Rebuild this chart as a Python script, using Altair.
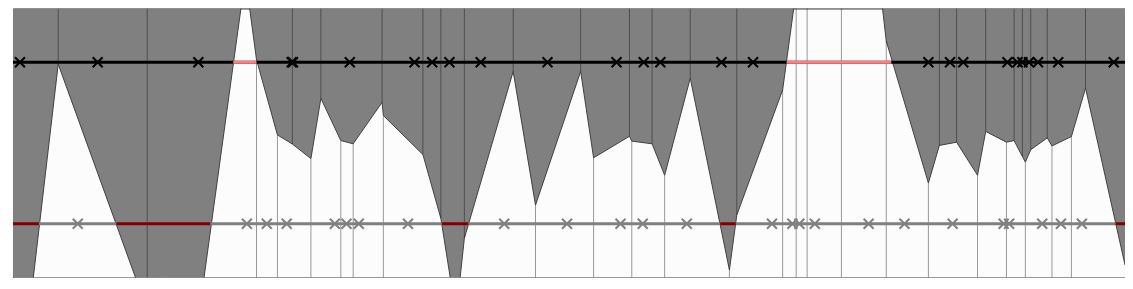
import altair as alt
import pandas as pd

# Boundary between the grey (upper) and white (lower) regions
bound_x = [0, 45.4, 134.7, 149.7, 233.2, 244.4, 265.4, 280.4, 299, 309, 329, 341.4,
           370.4, 371.7, 411.4, 429.4, 444.7, 453, 502, 524.4, 569.7, 582.7, 618.7,
           621, 641.4, 654, 679.7, 719, 726.4, 772.4, 786, 797, 831.4, 876.4, 918.7,
           929.7, 947, 968, 976.2, 997, 1004.7, 1013, 1016, 1021.4, 1038, 1042.7,
           1062.2, 1076.4, 1116]
bound_y = [-0.647, 0.793, -0.12, -1.136, 1.12, 0.81, 0.530, 0.496, 0.442, 0.666, 0.509,
           0.497, 0.651, 0.602, 0.457, 0.220, -0.138, 0.146, 0.766, 0.269, 0.766, 0.445,
           0.525, 0.507, 0.497, 0.380, 0.741, 0.028, 0.232, 0.697, 1.068, 1.40, 2.34,
           0.879, 0.351, 0.491, 0.503, 0.380, 0.543, 0.503, 0.509, 0.45, 0.429, 0.475,
           0.519, 0.489, 0.524, 0.704, 0.047]
bound_side = ["", "top", "top", "bottom", "top", "bottom", "bottom", "top", "bottom", "top",
              "bottom", "bottom", "top", "bottom", "top", "top", "bottom", "top", "top",
              "bottom", "top", "bottom", "top", "bottom", "top", "bottom", "top", "bottom",
              "top", "bottom", "bottom", "bottom", "bottom", "bottom", "bottom", "top", "top",
              "bottom", "top", "bottom", "top", "top", "bottom", "top", "top", "bottom",
              "bottom", "top", ""]

# Markers
black_x = [7, 85, 186, 279.7, 281, 338, 403, 420.7, 438, 469.4, 536.4, 605.7, 633, 649.7,
           711, 742.7, 918.7, 940.4, 953.7, 998, 1008, 1013, 1019.7, 1028.7, 1049, 1104.7]
gray_x = [65, 234.7, 254.7, 274.7, 323, 334.7, 347, 396.4, 493, 556, 609.7, 632, 676.2,
          761.7, 782.2, 789.2, 804.7, 858.7, 894.7, 943, 994.2, 999.7, 1032.9, 1051.7, 1072.7]
black_level = 0.8
gray_level = 0.2

# Highlighted segments on the two horizontal lines
pink_start = [221, 776.4]
pink_end = [244.4, 881.4]
darkred_start = [0, 103.7, 430.4, 709.7, 1106.4]
darkred_end = [26, 198, 457, 725.4, 1116]

X_MAX = 1116

bdf = pd.DataFrame({"x": bound_x, "y": bound_y, "side": bound_side})
rdf = bdf[bdf["side"] != ""].copy()
rdf["lo"] = [y if s == "top" else 0 for y, s in zip(rdf["y"], rdf["side"])]
rdf["hi"] = [1 if s == "top" else y for y, s in zip(rdf["y"], rdf["side"])]

seg_rows = [{"x": 0, "x2": X_MAX, "y": black_level, "k": "black"}]
seg_rows += [{"x": a, "x2": b, "y": black_level, "k": "pink"} for a, b in zip(pink_start, pink_end)]
seg_rows += [{"x": 0, "x2": X_MAX, "y": gray_level, "k": "gray"}]
seg_rows += [{"x": a, "x2": b, "y": gray_level, "k": "darkred"} for a, b in zip(darkred_start, darkred_end)]
sdf = pd.DataFrame(seg_rows)
sdf["o"] = range(len(sdf))

mdf = pd.DataFrame({"x": black_x + gray_x,
                    "y": [black_level] * len(black_x) + [gray_level] * len(gray_x),
                    "k": ["black"] * len(black_x) + ["gray"] * len(gray_x)})

xs = alt.Scale(domain=[0, X_MAX], nice=False, zero=False)
ys = alt.Scale(domain=[0, 1], nice=False, zero=False)

area = alt.Chart(bdf).mark_area(color="#808080", clip=True, opacity=1).encode(
    x=alt.X("x:Q", scale=xs, axis=None),
    y=alt.Y("y:Q", scale=ys, axis=None),
    y2=alt.datum(1),
)
edge = alt.Chart(bdf).mark_line(color="#404040", strokeWidth=1, clip=True).encode(
    x=alt.X("x:Q", scale=xs, axis=None),
    y=alt.Y("y:Q", scale=ys, axis=None),
)
rules = alt.Chart(rdf).mark_rule(color="black", strokeOpacity=0.4, strokeWidth=1, clip=True).encode(
    x=alt.X("x:Q", scale=xs, axis=None),
    y=alt.Y("lo:Q", scale=ys, axis=None),
    y2="hi:Q",
)
segs = alt.Chart(sdf).mark_rule(strokeWidth=3, clip=True).encode(
    x=alt.X("x:Q", scale=xs, axis=None),
    x2="x2:Q",
    y=alt.Y("y:Q", scale=ys, axis=None),
    color=alt.Color("k:N", scale=alt.Scale(domain=["black", "pink", "gray", "darkred"],
                                           range=["#000000", "#ff7f7f", "#808080", "#800000"]),
                    legend=None),
    order="o:Q",
)
xpath = "M-1,-1L1,1M-1,1L1,-1"
marks = alt.Chart(mdf).mark_point(shape=xpath, filled=False, size=100, strokeWidth=2, opacity=1).encode(
    x=alt.X("x:Q", scale=xs, axis=None),
    y=alt.Y("y:Q", scale=ys, axis=None),
    color=alt.Color("k:N", scale=alt.Scale(domain=["black", "gray"], range=["#000000", "#808080"]),
                    legend=None),
)

chart = alt.layer(area, edge, rules, segs, marks).properties(
    width=1116, height=270,
    padding={"left": 3, "top": 0, "right": 0, "bottom": 0},
).configure_view(stroke="#333333", strokeWidth=1, fill="#fcfcfc")

chart.save("out.html", embed_options={"renderer": "svg", "actions": False})
